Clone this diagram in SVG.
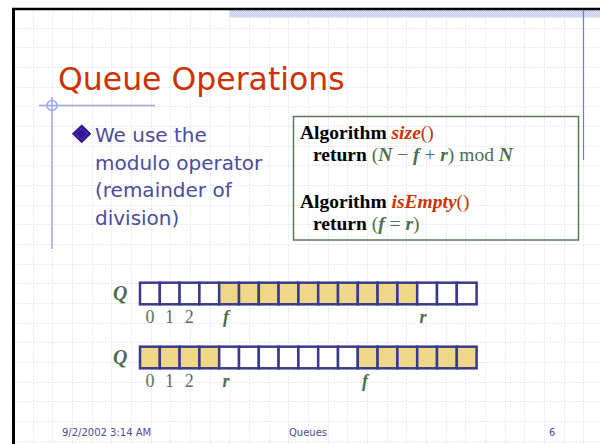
<svg xmlns="http://www.w3.org/2000/svg" width="600" height="444" viewBox="0 0 600 444">
<style>
.grid{stroke:#e8eaf8;stroke-width:1;stroke-dasharray:2 1;fill:none}
.sans{font-family:"DejaVu Sans","Liberation Sans",sans-serif}
.serif{font-family:"Liberation Serif","Times New Roman",serif}
.title{font-size:31.5px;fill:#cc3300}
.bullet{font-size:20px;fill:#4d4d99}
.foot{font-size:10px;fill:#4d4d99}
.alg{font-size:19.5px;fill:#000}
.b{font-weight:bold}
.fn{font-weight:bold;font-style:italic;fill:#cc3300}
.red{fill:#cc3300}
.g{fill:#4f6e4f}
.v{font-weight:bold;font-style:italic}
.cell{stroke:#3a3a8c;stroke-width:2.5;fill:#ffffff}
.full{fill:#eed888}
.q{font-size:20px;font-weight:bold;font-style:italic;fill:#4f6e4f}
.idx{font-size:18px;fill:#5f6f5f}
.ptr{font-size:18px;font-weight:bold;font-style:italic;fill:#4f6e4f}
</style>
<defs>
<pattern id="hatch" patternUnits="userSpaceOnUse" width="2" height="2">
<rect width="2" height="2" fill="#dfe4f7"/>
<rect width="1" height="1" fill="#c3cbee"/>
<rect x="1" y="1" width="1" height="1" fill="#c3cbee"/>
</pattern>
</defs>
<rect width="600" height="444" fill="#ffffff"/>
<g id="grid">
<path class="grid" d="M33.5 10V444M52.5 10V444M72.5 10V444M92.5 10V444M111.5 10V444M131.5 10V444M151.5 10V444M170.5 10V444M190.5 10V444M210.5 10V444M229.5 10V444M249.5 10V444M269.5 10V444M288.5 10V444M308.5 10V444M328.5 10V444M347.5 10V444M367.5 10V444M387.5 10V444M406.5 10V444M426.5 10V444M446.5 10V444M465.5 10V444M485.5 10V444M505.5 10V444M524.5 10V444M544.5 10V444M564.5 10V444M583.5 10V444"/>
<path class="grid" d="M15 28.5H600M15 47.5H600M15 67.5H600M15 87.5H600M15 106.5H600M15 126.5H600M15 146.5H600M15 165.5H600M15 185.5H600M15 205.5H600M15 224.5H600M15 244.5H600M15 264.5H600M15 283.5H600M15 303.5H600M15 323.5H600M15 342.5H600M15 362.5H600M15 382.5H600M15 401.5H600M15 421.5H600M15 441.5H600"/>
</g>
<g id="frame">
<rect x="229.5" y="10" width="370.5" height="7.5" fill="url(#hatch)"/>
<line x1="12" y1="9" x2="600" y2="9" stroke="#000" stroke-width="2.5"/>
<line x1="13.5" y1="8" x2="13.5" y2="444" stroke="#000" stroke-width="3"/>
<line x1="583.5" y1="10" x2="583.5" y2="160" stroke="#6a78dc" stroke-width="1.2"/>
<line x1="39" y1="105.5" x2="155" y2="105.5" stroke="#9aa6f0" stroke-width="1.5"/>
<line x1="52" y1="97" x2="52" y2="249" stroke="#9aa6f0" stroke-width="1.5"/>
<circle cx="52" cy="105.5" r="5" fill="none" stroke="#9aa6f0" stroke-width="1.5"/>
</g>
<g id="title">
<text class="sans title" x="58" y="90">Queue Operations</text>
</g>
<g id="bullet">
<path d="M81.7 125 L90.8 133.8 L81.7 142.7 L72.4 133.8 Z" fill="#33139a" stroke="#2a0c88" stroke-width="1" stroke-linejoin="round"/>
<path d="M81.7 128.2 L87.5 133.8 L81.7 139.5 L75.8 133.8 Z" fill="none" stroke="#8f7fd8" stroke-width="0.8" stroke-dasharray="1 1"/>
<text class="sans bullet" x="95" y="141.5">We use the</text>
<text class="sans bullet" x="95" y="169.5">modulo operator</text>
<text class="sans bullet" x="95" y="197">(remainder of</text>
<text class="sans bullet" x="95" y="225">division)</text>
</g>
<g id="algorithm">
<rect x="293.5" y="116.5" width="285" height="123.5" fill="none" stroke="#5a785a" stroke-width="1.5"/>
<text class="serif alg" x="300" y="138.5"><tspan class="b">Algorithm </tspan><tspan class="fn">size</tspan><tspan class="red">()</tspan></text>
<text class="serif alg" x="313" y="160.5"><tspan class="b">return </tspan><tspan class="g">(</tspan><tspan class="g v">N</tspan><tspan class="g"> − </tspan><tspan class="g v">f</tspan><tspan class="g"> + </tspan><tspan class="g v">r</tspan><tspan class="g">) mod </tspan><tspan class="g v">N</tspan></text>
<text class="serif alg" x="300" y="208"><tspan class="b">Algorithm </tspan><tspan class="fn">isEmpty</tspan><tspan class="red">()</tspan></text>
<text class="serif alg" x="313" y="230"><tspan class="b">return </tspan><tspan class="g">(</tspan><tspan class="g v">f</tspan><tspan class="g"> = </tspan><tspan class="g v">r</tspan><tspan class="g">)</tspan></text>
</g>
<g id="queue1">
<text class="serif q" x="113" y="300">Q</text>
<rect class="cell" x="140" y="282.7" width="19.8" height="21.6"/>
<rect class="cell" x="159.8" y="282.7" width="19.8" height="21.6"/>
<rect class="cell" x="179.6" y="282.7" width="19.8" height="21.6"/>
<rect class="cell" x="199.4" y="282.7" width="19.8" height="21.6"/>
<rect class="cell full" x="219.2" y="282.7" width="19.8" height="21.6"/>
<rect class="cell full" x="239" y="282.7" width="19.8" height="21.6"/>
<rect class="cell full" x="258.8" y="282.7" width="19.8" height="21.6"/>
<rect class="cell full" x="278.6" y="282.7" width="19.8" height="21.6"/>
<rect class="cell full" x="298.4" y="282.7" width="19.8" height="21.6"/>
<rect class="cell full" x="318.2" y="282.7" width="19.8" height="21.6"/>
<rect class="cell full" x="338" y="282.7" width="19.8" height="21.6"/>
<rect class="cell full" x="357.8" y="282.7" width="19.8" height="21.6"/>
<rect class="cell full" x="377.6" y="282.7" width="19.8" height="21.6"/>
<rect class="cell full" x="397.4" y="282.7" width="19.8" height="21.6"/>
<rect class="cell" x="417.2" y="282.7" width="19.8" height="21.6"/>
<rect class="cell" x="437" y="282.7" width="19.8" height="21.6"/>
<rect class="cell" x="456.8" y="282.7" width="19.8" height="21.6"/>
<text class="serif idx" x="150" y="323" text-anchor="middle">0</text>
<text class="serif idx" x="169.5" y="323" text-anchor="middle">1</text>
<text class="serif idx" x="189.3" y="323" text-anchor="middle">2</text>
<text class="serif ptr" x="226" y="323" text-anchor="middle">f</text>
<text class="serif ptr" x="423" y="323" text-anchor="middle">r</text>
</g>
<g id="queue2">
<text class="serif q" x="113" y="364">Q</text>
<rect class="cell full" x="140" y="346.7" width="19.8" height="21.6"/>
<rect class="cell full" x="159.8" y="346.7" width="19.8" height="21.6"/>
<rect class="cell full" x="179.6" y="346.7" width="19.8" height="21.6"/>
<rect class="cell full" x="199.4" y="346.7" width="19.8" height="21.6"/>
<rect class="cell" x="219.2" y="346.7" width="19.8" height="21.6"/>
<rect class="cell" x="239" y="346.7" width="19.8" height="21.6"/>
<rect class="cell" x="258.8" y="346.7" width="19.8" height="21.6"/>
<rect class="cell" x="278.6" y="346.7" width="19.8" height="21.6"/>
<rect class="cell" x="298.4" y="346.7" width="19.8" height="21.6"/>
<rect class="cell" x="318.2" y="346.7" width="19.8" height="21.6"/>
<rect class="cell" x="338" y="346.7" width="19.8" height="21.6"/>
<rect class="cell full" x="357.8" y="346.7" width="19.8" height="21.6"/>
<rect class="cell full" x="377.6" y="346.7" width="19.8" height="21.6"/>
<rect class="cell full" x="397.4" y="346.7" width="19.8" height="21.6"/>
<rect class="cell full" x="417.2" y="346.7" width="19.8" height="21.6"/>
<rect class="cell full" x="437" y="346.7" width="19.8" height="21.6"/>
<rect class="cell full" x="456.8" y="346.7" width="19.8" height="21.6"/>
<text class="serif idx" x="150" y="387" text-anchor="middle">0</text>
<text class="serif idx" x="169.5" y="387" text-anchor="middle">1</text>
<text class="serif idx" x="189.3" y="387" text-anchor="middle">2</text>
<text class="serif ptr" x="226" y="387" text-anchor="middle">r</text>
<text class="serif ptr" x="365" y="387" text-anchor="middle">f</text>
</g>
<g id="footer">
<text class="sans foot" x="62" y="436">9/2/2002 3:14 AM</text>
<text class="sans foot" x="289" y="436">Queues</text>
<text class="sans foot" x="549" y="436">6</text>
</g>
</svg>
